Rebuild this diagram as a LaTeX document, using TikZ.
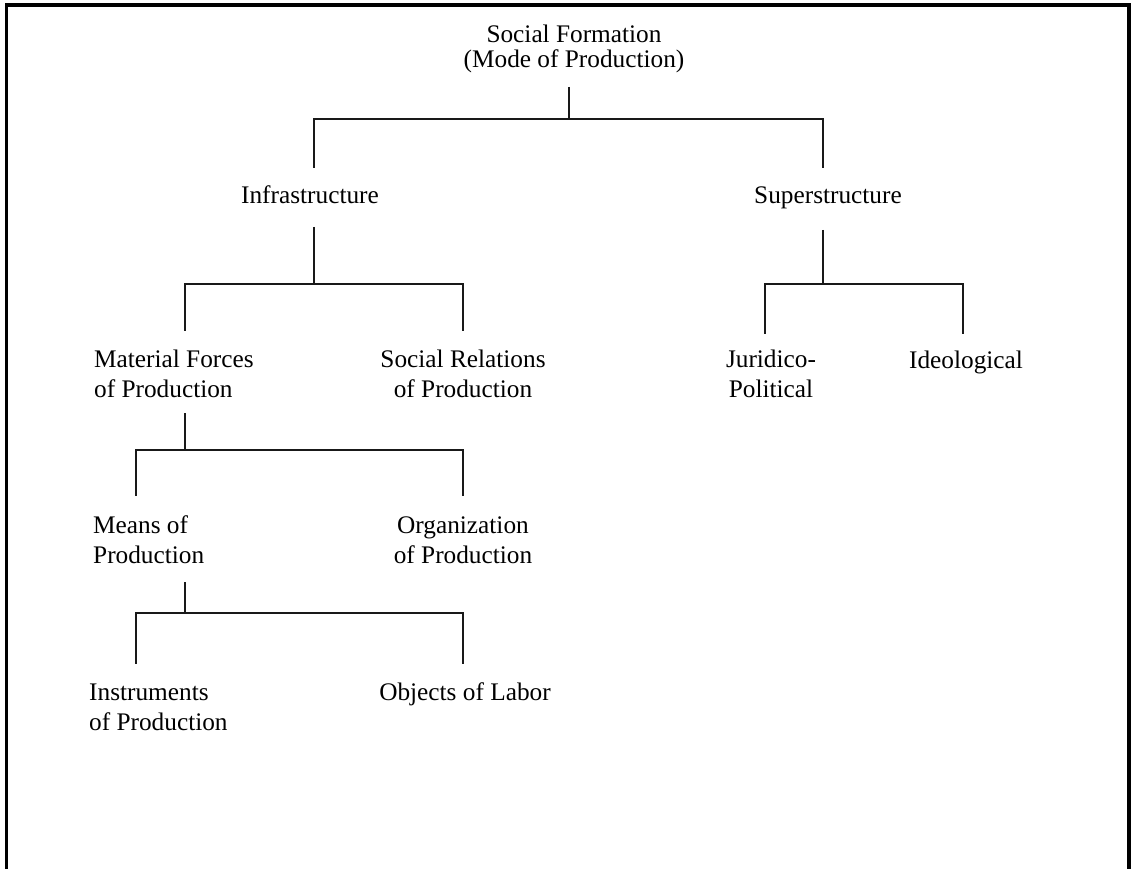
\documentclass[tikz,border=0pt]{standalone}
\usepackage{fontspec}
\setmainfont{Liberation Serif}

\begin{document}
\begin{tikzpicture}[x=1pt, y=-1pt,
                every node/.style={inner sep=0pt, font=\fontsize{25.3}{29.5}\selectfont},
                branch/.style={draw, line width=2pt, black!90},
                frame/.style={draw, line width=3.5pt}]

                \useasboundingbox (0,0) rectangle (1133,869);
                \draw[frame] (6.7,869) -- (6.7,5) -- (1129,5) -- (1129,869); % open frame

                % labels (base = baseline of the last line)
                \node (sf) [anchor=base, align=center] at (574,68) {Social Formation\\[-4.5pt](Mode of Production)};
                \node (infra) [anchor=base] at (310,204) {Infrastructure};
                \node (super) [anchor=base] at (828,204) {Superstructure};
                \node (mfp) [anchor=base west, align=left] at (94,397) {Material Forces\\of Production};
                \node (srp) [anchor=base, align=center] at (463,397) {Social Relations\\of Production};
                \node (jp) [anchor=base, align=center] at (771,397) {Juridico-\\Political};
                \node (ideo) [anchor=base] at (966,368) {Ideological};
                \node (mop) [anchor=base west, align=left] at (93,563) {Means of\\Production};
                \node (oop) [anchor=base, align=center] at (463,563) {Organization\\of Production};
                \node (iop) [anchor=base west, align=left] at (89,730) {Instruments\\of Production};
                \node (obl) [anchor=base] at (465,700) {Objects of Labor};

                % stem ends
                \coordinate (sf-out) at (569,87);
                \coordinate (infra-in) at (314,168);
                \coordinate (super-in) at (823,168);
                \coordinate (infra-out) at (314,227);
                \coordinate (super-out) at (823,230);
                \coordinate (mfp-in) at (185,331);
                \coordinate (srp-in) at (463,331);
                \coordinate (jp-in) at (765,334);
                \coordinate (ideo-in) at (963,334);
                \coordinate (mfp-out) at (185,413);
                \coordinate (mop-in) at (136,496);
                \coordinate (oop-in) at (463,496);
                \coordinate (mop-out) at (185,582);
                \coordinate (iop-in) at (136,664);
                \coordinate (obl-in) at (463,664);

                \path[branch]
                    (sf-out) -- ++(0,32) -| (infra-in) % to Infrastructure
                    (sf-out) -- ++(0,32) -| (super-in) % to Superstructure
                    (infra-out) -- ++(0,57) -| (mfp-in)
                    (infra-out) -- ++(0,57) -| (srp-in)
                    (super-out) -- ++(0,54) -| (jp-in)
                    (super-out) -- ++(0,54) -| (ideo-in)
                    (mfp-out) -- ++(0,37) -| (mop-in)
                    (mfp-out) -- ++(0,37) -| (oop-in)
                    (mop-out) -- ++(0,31) -| (iop-in)
                    (mop-out) -- ++(0,31) -| (obl-in);

                \end{tikzpicture}
\end{document}
